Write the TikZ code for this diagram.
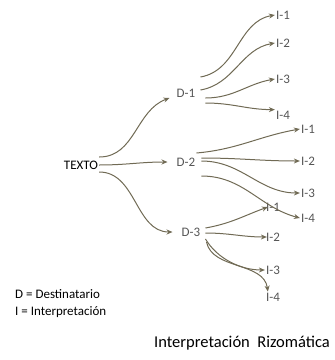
\documentclass[tikz,border=0pt]{standalone}
\usepackage{fontspec}
\setmainfont{Carlito}
\usetikzlibrary{arrows.meta,positioning}
\definecolor{rizoma}{RGB}{112,106,84}
\definecolor{labelgray}{RGB}{85,85,85}

\begin{document}
\begin{tikzpicture}[x=1pt,y=1pt,inner sep=1pt,
    font=\fontsize{13}{15}\selectfont,
    lbl/.style={text=labelgray},
    link/.style={draw=rizoma,line width=1pt,-{Stealth[length=6pt,width=5pt]}},
    links/.style={every edge/.append style={link}}]
   \useasboundingbox (0,0) rectangle (335,-360);
   \node (t) at (81,-165) {TEXTO};
   \node[lbl] (d_1) at (186,-93) {D-1};
   \node[lbl] (d_2) at (186,-162) {D-2};
   \node[lbl] (d_3) at (191,-232) {D-3};
   % interpretaciones de D-1
   \node[lbl] (i_11) at (283,-15) {I-1};
   \node[lbl] (i_12) at (283,-43) {I-2};
   \node[lbl] (i_13) at (283,-79) {I-3};
   \node[lbl] (i_14) at (283,-115) {I-4};
   % interpretaciones de D-2
   \node[lbl] (i_21) at (308,-129) {I-1};
   \node[lbl] (i_22) at (308,-161) {I-2};
   \node[lbl] (i_23) at (308,-193) {I-3};
   \node[lbl] (i_24) at (308,-218) {I-4};
   % interpretaciones de D-3
   \node[lbl] (i_31) at (273,-207) {I-1};
   \node[lbl] (i_32) at (273,-237) {I-2};
   \node[lbl] (i_33) at (273,-270) {I-3};
   \node[lbl] (i_34) at (273,-297) {I-4};
   % leyenda
   \node[anchor=west] (ley_d) at (14,-294) {D = Destinatario};
   \node[anchor=west] (ley_i) at (14,-312) {I = Interpretación};
   \node[anchor=east,font=\fontsize{16.5}{18}\selectfont] (titulo) at (331,-343) {Interpretación\ \ Rizomática};
    \path[links]
      ([yshift=8]t.east) edge[out=0,in=200] ([shift={(-6,-5)}]d_1.west)
      (t.east) edge[out=0,in=180] ([xshift=-8]d_2.west)
      ([yshift=-7]t.east) edge[out=0,in=180] ([xshift=-8]d_3.west)
      ([shift={(4,16)}]d_1.east) edge[out=10,in=190] (i_11.west)
      ([shift={(4,3)}]d_1.east) edge[out=10,in=190] (i_12.west)
      ([shift={(9,-5)}]d_1.east) edge[out=0,in=190] (i_13.west)
      ([shift={(9,-10)}]d_1.east) edge[out=0,in=180] (i_14.north west)
      ([shift={(0,9)}]d_2.east) edge[out=5,in=190] (i_21.west)
      ([shift={(5,4)}]d_2.east) edge[out=0,in=180] (i_22.west)
      ([shift={(5,1)}]d_2.east) edge[out=0,in=180] (i_23.west)
      ([shift={(5,-14)}]d_2.east) edge[out=0,in=165] (i_24.west)
      ([shift={(4,4)}]d_3.east) edge[out=10,in=200] ([xshift=3]i_31.west)
      ([shift={(4,-1)}]d_3.east) edge[out=0,in=180] ([xshift=2]i_32.west);
    \draw[link] ([shift={(4,-7)}]d_3.east) .. controls +(12,-20) and +(-24,0) .. (i_33.west);
    \draw[link] ([shift={(5,-10)}]d_3.east) .. controls +(6,-28) and +(-4,30) .. ([xshift=3]i_34.north west);
\end{tikzpicture}
\end{document}
